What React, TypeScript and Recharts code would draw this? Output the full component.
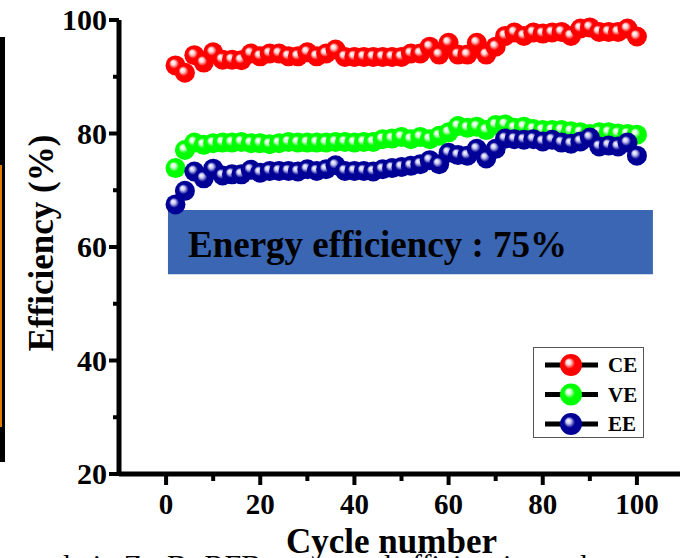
import React from "react";
import { LineChart, Line, XAxis, YAxis, Legend, ReferenceArea } from "recharts";

const FONT = '"Liberation Serif", "Times New Roman", serif';

// cycle numbers (every second cycle)
const cycles = [
  2, 4, 6, 8, 10, 12, 14, 16, 18, 20, 22, 24, 26, 28, 30, 32, 34, 36, 38, 40, 42, 44, 46, 48, 50,
  52, 54, 56, 58, 60, 62, 64, 66, 68, 70, 72, 74, 76, 78, 80, 82, 84, 86, 88, 90, 92, 94, 96, 98, 100,
];

const ce = [
  92.0, 90.7, 93.8, 92.5, 94.3, 93.0, 93.0, 92.9, 94.1, 93.6, 94.1, 94.1, 93.6, 93.6, 94.3, 93.6, 94.1,
  94.8, 93.5, 93.5, 93.5, 93.5, 93.5, 93.5, 93.5, 94.1, 94.1, 95.3, 93.9, 96.0, 93.9, 93.9, 96.0, 93.9,
  95.3, 97.2, 97.8, 97.2, 97.8, 97.6, 97.8, 97.9, 97.2, 98.5, 98.7, 97.9, 97.9, 97.9, 98.5, 97.1,
];

const ve = [
  73.9, 77.1, 78.4, 78.0, 78.3, 78.4, 78.4, 78.5, 78.3, 78.3, 78.1, 78.3, 78.5, 78.4, 78.4, 78.4, 78.4,
  78.5, 78.5, 78.4, 78.5, 78.5, 79.0, 79.1, 79.4, 79.0, 79.4, 79.0, 79.6, 80.2, 81.3, 81.0, 81.2, 80.6,
  81.5, 81.6, 81.0, 81.2, 80.8, 80.6, 80.6, 80.6, 80.4, 80.2, 79.9, 80.2, 80.2, 80.0, 79.9, 79.8,
];

const ee = [
  67.5, 69.9, 73.3, 72.1, 73.8, 72.6, 72.8, 72.8, 73.6, 73.1, 73.4, 73.4, 73.4, 73.3, 73.7, 73.4, 73.7,
  74.4, 73.4, 73.4, 73.4, 73.3, 73.7, 73.9, 74.1, 74.3, 74.6, 75.3, 74.6, 76.6, 76.2, 76.1, 77.3, 75.6,
  77.3, 79.1, 79.0, 78.9, 79.0, 78.6, 78.9, 78.4, 78.2, 78.6, 79.3, 77.7, 77.9, 77.7, 78.4, 76.1,
];

const xTicks = [0, 10, 20, 30, 40, 50, 60, 70, 80, 90, 100];
const yTicks = [20, 30, 40, 50, 60, 70, 80, 90, 100];

const series = [
  { key: "ce", name: "CE", color: "#ff0000", light: "#ffd6d6" },
  { key: "ve", name: "VE", color: "#00ff00", light: "#d6ffd6" },
  { key: "ee", name: "EE", color: "#000096", light: "#c8c8f0" },
];

// annotation box: "Energy efficiency : 75%"
const BOX = { x1: 0.4, x2: 103.4, y1: 55.2, y2: 66.5, text: "Energy efficiency : 75%" };

const data = cycles.map((c, i) => ({ cycle: c, ce: ce[i], ve: ve[i], ee: ee[i] }));

function YTick(props: any) {
  const { x, y, payload } = props;
  const major = payload.value % 20 === 0;
  return (
    <g>
      <line x1={x - (major ? 10 : 6)} x2={x} y1={y} y2={y} stroke="#000" strokeWidth={4} />
      {major && (
        <text x={x - 12} y={y + 10} textAnchor="end" fontFamily={FONT} fontWeight="bold" fontSize={30} fill="#000">
          {payload.value}
        </text>
      )}
    </g>
  );
}

function XTick(props: any) {
  const { x, y, payload } = props;
  const major = payload.value % 20 === 0;
  return (
    <g>
      <line x1={x} x2={x} y1={y} y2={y + (major ? 11 : 7)} stroke="#000" strokeWidth={4} />
      {major && (
        <text x={x} y={y + 40} textAnchor="middle" fontFamily={FONT} fontWeight="bold" fontSize={29} fill="#000">
          {payload.value}
        </text>
      )}
    </g>
  );
}

function Ball({ cx, cy, id, r = 10 }: { cx: number; cy: number; id: string; r?: number }) {
  if (cx == null || cy == null) return null;
  return <circle cx={cx} cy={cy} r={r} fill={`url(#ball-${id})`} />;
}

function LegendBox() {
  return (
    <svg width={112} height={92}>
      <defs>
        {series.map((s) => (
          <radialGradient key={s.key} id={`lg-${s.key}`} cx="50%" cy="50%" r="50%" fx="36%" fy="34%">
            <stop offset="0%" stopColor="#ffffff" />
            <stop offset="22%" stopColor={s.light} />
            <stop offset="50%" stopColor={s.color} />
            <stop offset="100%" stopColor={s.color} />
          </radialGradient>
        ))}
      </defs>
      <rect x={0.5} y={0.5} width={110} height={90} fill="#fff" stroke="#555" strokeWidth={1} />
      {series.map((s, i) => {
        const cy = 18 + i * 29.5;
        return (
          <g key={s.key}>
            <line x1={12} x2={65} y1={cy} y2={cy} stroke="#000" strokeWidth={5} />
            <circle cx={38} cy={cy} r={11} fill={`url(#lg-${s.key})`} />
            <text x={75} y={cy + 7} fontFamily={FONT} fontWeight="bold" fontSize={21} fill="#000">
              {s.name}
            </text>
          </g>
        );
      })}
    </svg>
  );
}

export default function App() {
  return (
    <div
      style={{
        position: "fixed",
        left: 0,
        top: 0,
        width: 680,
        height: 558,
        overflow: "hidden",
        background: "#fff",
      }}
    >
      {/* edge of the neighbouring panel */}
      <div style={{ position: "absolute", left: 0, top: 37, width: 5, height: 425, background: "#000" }} />
      <div style={{ position: "absolute", left: 0, top: 165, width: 2, height: 262, background: "#e07b00" }} />

      <div style={{ position: "absolute", left: 0, top: 0 }}>
        <LineChart width={720} height={558} data={data} margin={{ top: 20, right: 36, bottom: 0, left: 0 }}>
          <defs>
            {series.map((s) => (
              <radialGradient key={s.key} id={`ball-${s.key}`} cx="50%" cy="50%" r="50%" fx="36%" fy="34%">
                <stop offset="0%" stopColor="#ffffff" />
                <stop offset="22%" stopColor={s.light} />
                <stop offset="50%" stopColor={s.color} />
                <stop offset="100%" stopColor={s.color} />
              </radialGradient>
            ))}
          </defs>
          <XAxis
            dataKey="cycle"
            type="number"
            domain={[-10, 110]}
            ticks={xTicks}
            interval={0}
            height={84}
            tickSize={0}
            tickMargin={0}
            tickLine={false}
            tick={<XTick />}
            axisLine={{ stroke: "#000", strokeWidth: 5 }}
            label={{
              content: (p: any) => {
                const vb = p.viewBox;
                return (
                  <text
                    x={vb.x + vb.width / 2 - 10}
                    y={vb.y + 79}
                    textAnchor="middle"
                    fontFamily={FONT}
                    fontWeight="bold"
                    fontSize={35}
                    fill="#000"
                  >
                    Cycle number
                  </text>
                );
              },
            }}
          />
          <XAxis
            xAxisId="top"
            dataKey="cycle"
            type="number"
            orientation="top"
            domain={[-10, 110]}
            height={0}
            tick={false}
            tickLine={false}
            axisLine={{ stroke: "#000", strokeWidth: 5 }}
          />
          <YAxis
            type="number"
            domain={[20, 100]}
            ticks={yTicks}
            interval={0}
            width={119}
            tickSize={0}
            tickMargin={0}
            tickLine={false}
            tick={<YTick />}
            axisLine={{ stroke: "#000", strokeWidth: 5 }}
            label={{
              content: (p: any) => {
                const vb = p.viewBox;
                const cx = vb.x + 53;
                const cy = vb.y + vb.height / 2 - 4;
                return (
                  <text
                    transform={`translate(${cx},${cy}) rotate(-90)`}
                    textAnchor="middle"
                    fontFamily={FONT}
                    fontWeight="bold"
                    fontSize={35}
                    fill="#000"
                  >
                    Efficiency (%)
                  </text>
                );
              },
            }}
          />
          {series.map((s) => (
            <Line
              key={s.key}
              dataKey={s.key}
              name={s.name}
              stroke="none"
              isAnimationActive={false}
              dot={(p: any) => <Ball key={`${s.key}-${p.index}`} cx={p.cx} cy={p.cy} id={s.key} />}
              activeDot={false}
            />
          ))}
          <ReferenceArea
            x1={BOX.x1}
            x2={BOX.x2}
            y1={BOX.y1}
            y2={BOX.y2}
            fill="#3a66b3"
            fillOpacity={1}
            stroke="none"
            ifOverflow="visible"
            label={{
              content: (p: any) => {
                const vb = p.viewBox;
                return (
                  <text x={vb.x + 20} y={vb.y + 47} fontFamily={FONT} fontWeight="bold" fontSize={37} fill="#000">
                    {BOX.text}
                  </text>
                );
              },
            }}
          />
          <Legend
            layout="horizontal"
            verticalAlign="middle"
            align="center"
            content={() => <LegendBox />}
            wrapperStyle={{ position: "absolute", left: 533, top: 347, width: 112, height: 92 }}
          />
        </LineChart>
      </div>

      {/* cut-off caption below the figure */}
      <div
        style={{
          position: "absolute",
          left: 27,
          top: 550,
          fontFamily: FONT,
          fontSize: 30,
          lineHeight: "30px",
          whiteSpace: "nowrap",
          color: "#000",
        }}
      >
        and&nbsp;&nbsp; in Zn-Br RFBs &nbsp;&nbsp;&nbsp;&nbsp;&nbsp;&nbsp;&nbsp;&nbsp;&nbsp;and efficiencies and
      </div>
    </div>
  );
}
